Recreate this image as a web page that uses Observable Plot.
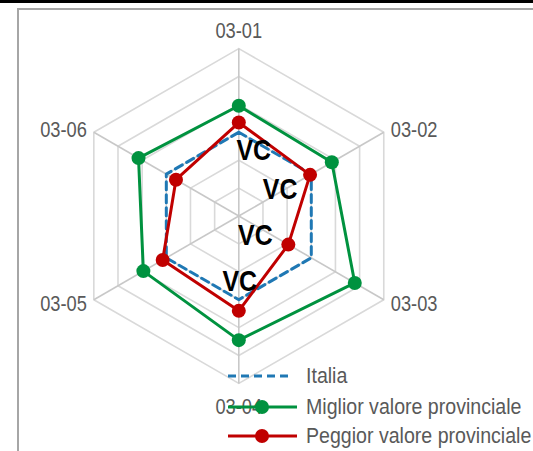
<!DOCTYPE html>
<html>
<head>
<meta charset="utf-8">
<script src="https://cdn.jsdelivr.net/npm/d3@7"></script>
<script src="https://cdn.jsdelivr.net/npm/@observablehq/plot@0.6"></script>
<style>
  html, body { margin: 0; padding: 0; background: #fff; }
  #wrap { position: relative; width: 533px; height: 451px; overflow: hidden; font-family: "Liberation Sans", Arial, sans-serif; }
  #topbar { position: absolute; left: 0; top: 0; width: 533px; height: 3px; background: #000; }
  #frame { position: absolute; left: 17px; top: 8px; width: 600px; height: 600px; border-left: 2px solid #a6a6a6; border-top: 2.5px solid #a6a6a6; }
  #chart { position: absolute; left: 0; top: 0; }
  #legend { position: absolute; left: 0; top: 0; width: 533px; height: 451px; pointer-events: none; }
  .lg { position: absolute; left: 226px; height: 30px; display: flex; align-items: center; font-size: 22px; color: #595959; white-space: nowrap; }
  .lg svg { margin-right: 8px; flex: none; }
  .lg span { display: inline-block; transform: scaleX(0.89); transform-origin: 0 50%; }
</style>
</head>
<body>
<div id="wrap">
  <div id="topbar"></div>
  <div id="frame"></div>
  <div id="chart"></div>
  <div id="legend"></div>
</div>
<script>
const axes = ["03-01", "03-02", "03-03", "03-04", "03-05", "03-06"];
const italia  = [100, 100, 100, 100, 100, 100];
const miglior = [119, 117, 136, 129, 119, 123];
const peggior = [107, 99, 81, 108, 103, 92];
const levels = [60, 80, 100, 120, 140, 160];
const vcLabel = "VC";
const seriesNames = ["Italia", "Miglior valore provinciale", "Peggior valore provinciale"];

const rMin = 40, rMax = 160;
const colors = { italia: "#1f78b4", miglior: "#00923f", peggior: "#c00000" };
const font = '"Liberation Sans", Arial, sans-serif';

function pos(i, v) {
  const a = (i * 2 * Math.PI) / axes.length;
  const r = (v - rMin) / (rMax - rMin);
  return { x: r * Math.sin(a), y: r * Math.cos(a) };
}
function polygon(values, name) {
  return values.map((v, i) => ({ ...pos(i, v), axis: axes[i], value: v, name }));
}
const closed = (pts) => [...pts, pts[0]];

const ringData = levels.flatMap(l => closed(axes.map((a, i) => ({ ...pos(i, l), level: l }))));
const spokes = axes.map((a, i) => ({ axis: a, ...pos(i, rMax) }));
const labelPts = axes.map((a, i) => ({ axis: a, i, ...pos(i, rMax) }));

const itPts = polygon(italia, seriesNames[0]);
const miPts = polygon(miglior, seriesNames[1]);
const pePts = polygon(peggior, seriesNames[2]);

const cx = 238.3, cy = 215.5, R = 167.4;
const W = 533, H = 451;

const axisText = (i, opts) => Plot.text(labelPts.filter(d => d.i === i), { x: "x", y: "y", text: "axis", fontSize: 22, fill: "#595959", fontFamily: font, ...opts });
const vcText = (p, dx, dy) => Plot.text([p], { x: "x", y: "y", text: () => vcLabel, dx, dy, fontSize: 30, fontWeight: "bold", fill: "#000", fontFamily: font });

const chart = Plot.plot({
  width: W, height: H,
  marginLeft: cx - R, marginRight: W - (cx + R),
  marginTop: cy - R, marginBottom: H - (cy + R),
  x: { domain: [-1, 1], axis: null },
  y: { domain: [-1, 1], axis: null },
  style: { background: "transparent", overflow: "visible" },
  marks: [
    Plot.line(ringData, { x: "x", y: "y", z: "level", stroke: "#d9d9d9", strokeWidth: 1.6 }),
    Plot.link(spokes, { x1: 0, y1: 0, x2: "x", y2: "y", stroke: "#c8c8c8", strokeWidth: 1.6 }),
    axisText(0, { textAnchor: "middle", lineAnchor: "bottom", dy: -11 }),
    axisText(1, { textAnchor: "start", dx: 7, dy: -2 }),
    axisText(2, { textAnchor: "start", dx: 7, dy: 4 }),
    axisText(3, { textAnchor: "middle", lineAnchor: "top", dy: 15 }),
    axisText(4, { textAnchor: "end", dx: -7, dy: 4 }),
    axisText(5, { textAnchor: "end", dx: -7, dy: -2 }),
    Plot.line(closed(itPts), { x: "x", y: "y", stroke: colors.italia, strokeWidth: 3, strokeDasharray: "8,5" }),
    Plot.line(closed(miPts), { x: "x", y: "y", stroke: colors.miglior, strokeWidth: 3, strokeLinejoin: "round" }),
    Plot.line(closed(pePts), { x: "x", y: "y", stroke: colors.peggior, strokeWidth: 3, strokeLinejoin: "round" }),
    Plot.dot(miPts, { x: "x", y: "y", r: 7, fill: colors.miglior }),
    Plot.dot(pePts, { x: "x", y: "y", r: 7, fill: colors.peggior }),
    vcText(pePts[0], 15, 28),
    vcText(pePts[1], -30, 15),
    vcText(pePts[2], -33, -9),
    vcText(pePts[3], 1, -29)
  ]
});
document.getElementById("chart").appendChild(chart);

// condense text to mimic a narrow face
chart.querySelectorAll("text").forEach(el => {
  const len = el.getComputedTextLength();
  if (len > 0) {
    el.setAttribute("textLength", (len * 0.83).toFixed(1));
    el.setAttribute("lengthAdjust", "spacingAndGlyphs");
  }
});

// Legend
const legend = document.getElementById("legend");
const rows = [
  { name: seriesNames[0], color: colors.italia, dashed: true, dot: false, y: 361 },
  { name: seriesNames[1], color: colors.miglior, dashed: false, dot: true, y: 392 },
  { name: seriesNames[2], color: colors.peggior, dashed: false, dot: true, y: 421 }
];
rows.forEach(r => {
  const div = document.createElement("div");
  div.className = "lg";
  div.style.top = r.y + "px";
  const sw = d3.create("svg").attr("width", 72).attr("height", 18);
  sw.append("line").attr("x1", 2).attr("x2", r.dashed ? 64 : 71).attr("y1", 9).attr("y2", 9)
    .attr("stroke", r.color).attr("stroke-width", 3).attr("stroke-dasharray", r.dashed ? "8,5" : null);
  if (r.dot) sw.append("circle").attr("cx", 36).attr("cy", 9).attr("r", 7).attr("fill", r.color);
  div.appendChild(sw.node());
  const t = document.createElement("span");
  t.textContent = r.name;
  div.appendChild(t);
  legend.appendChild(div);
});
</script>
</body>
</html>
